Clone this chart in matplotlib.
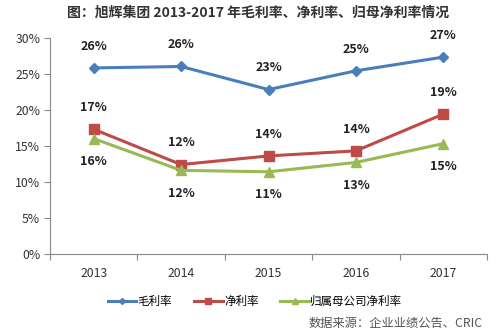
import matplotlib
matplotlib.use("Agg")
import matplotlib.pyplot as plt
import numpy as np

plt.rcParams['font.family'] = ['Noto Sans CJK SC', 'DejaVu Sans']

years = ['2013', '2014', '2015', '2016', '2017']
gross = [25.8, 26.0, 22.8, 25.4, 27.3]
net = [17.3, 12.4, 13.6, 14.3, 19.4]
parent = [16.0, 11.6, 11.4, 12.7, 15.3]
gross_labels = ['26%', '26%', '23%', '25%', '27%']
net_labels = ['17%', '12%', '14%', '14%', '19%']
parent_labels = ['16%', '12%', '11%', '13%', '15%']
series_names = ['毛利率', '净利率', '归属母公司净利率']
title = '图：旭辉集团 2013-2017 年毛利率、净利率、归母净利率情况'
source = '数据来源：企业业绩公告、CRIC'

fig = plt.figure(figsize=(5.0, 3.36), dpi=100)
ax = fig.add_axes([0.1, 0.244, 0.874, 0.644])
x = np.arange(len(years))

c_blue, c_red, c_green = '#4A7EBB', '#BE4B48', '#98B954'
l1, = ax.plot(x, gross, color=c_blue, lw=2.2, marker='D', ms=5, label=series_names[0])
l2, = ax.plot(x, net, color=c_red, lw=2.2, marker='s', ms=6.5, label=series_names[1])
l3, = ax.plot(x, parent, color=c_green, lw=2.2, marker='^', ms=6.5, label=series_names[2])

lab_kw = dict(textcoords='offset points', ha='center', fontsize=9, fontweight='bold', color='#222222')
for i in range(len(years)):
    ax.annotate(gross_labels[i], (x[i], gross[i]), xytext=(0, 11), va='bottom', **lab_kw)
    ax.annotate(net_labels[i], (x[i], net[i]), xytext=(0, 11), va='bottom', **lab_kw)
    ax.annotate(parent_labels[i], (x[i], parent[i]), xytext=(0, -12), va='top', **lab_kw)

ax.set_xlim(-0.5, 4.5)
ax.set_ylim(0, 30)
ax.set_yticks(np.arange(0, 31, 5))
ax.set_yticklabels([f'{v}%' for v in range(0, 31, 5)], fontsize=8.8, color='#333333')
ax.set_xticks(np.arange(-0.5, 4.6, 1))
ax.set_xticklabels([])
ax.set_xticks(x, minor=True)
ax.set_xticklabels(years, minor=True, fontsize=8.8, color='#333333')
ax.tick_params(axis='x', which='minor', length=0, pad=9)
ax.tick_params(axis='x', which='major', length=4, color='#888888', direction='out')
ax.tick_params(axis='y', length=4, color='#888888', direction='out', pad=3)
for s in ['top', 'right']:
    ax.spines[s].set_visible(False)
for s in ['left', 'bottom']:
    ax.spines[s].set_color('#888888')
    ax.spines[s].set_linewidth(0.8)

fig.legend(handles=[l1, l2, l3], loc='center', bbox_to_anchor=(0.51, 0.103), ncol=3,
           frameon=False, fontsize=8.3, handlelength=2.5, columnspacing=1.9, handletextpad=0.1,
           markerscale=0.6)

fig.text(0.516, 0.962, title, ha='center', va='center', fontsize=10, fontweight='bold', color='#333333')
fig.text(0.966, 0.038, source, ha='right', va='center', fontsize=8.8, color='#555555')

fig.savefig('out.png', dpi=100)
